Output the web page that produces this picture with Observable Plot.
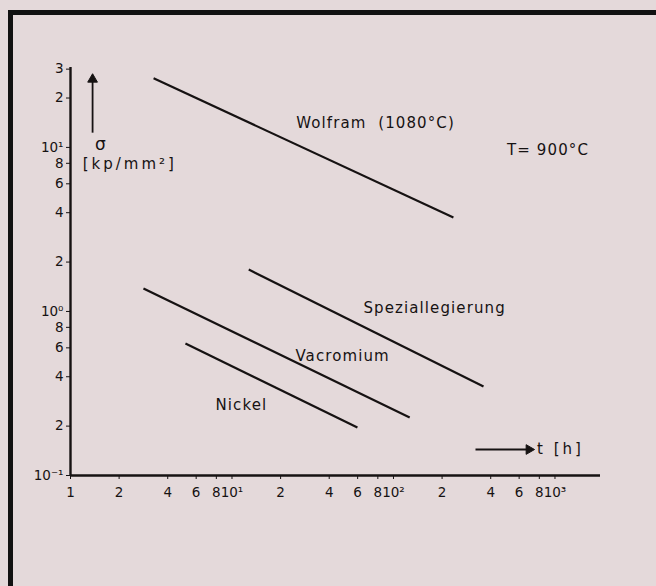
<!DOCTYPE html>
<html>
<head>
<meta charset="utf-8">
<script src="https://cdn.jsdelivr.net/npm/d3@7"></script>
<script src="https://cdn.jsdelivr.net/npm/@observablehq/plot@0.6"></script>
<style>
  html, body { margin: 0; padding: 0; background: #e4d9da; }
  #wrap { position: relative; width: 656px; height: 586px; overflow: hidden; background: #e4d9da; }
  #frame { position: absolute; left: 8px; top: 10px; width: 660px; height: 600px;
           border-left: 5px solid #111; border-top: 5px solid #111; pointer-events: none; }
  #chart { position: absolute; left: 0; top: 0; }
  #chart .ann text { letter-spacing: 1.1px; }
  #chart .wide text { letter-spacing: 3px; }
  #chart .tk text { letter-spacing: 0px; }
</style>
</head>
<body>
<div id="wrap"><div id="chart"></div><div id="frame"></div></div>
<script>
// Series: creep strength lines (t in h, sigma in kp/mm²), start and end points
const seriesNames = ["Wolfram", "Speziallegierung", "Vacromium", "Nickel"];
const seriesT = [[3.27, 235], [12.7, 361], [2.83, 126], [5.15, 59.8]];
const seriesSigma = [[26.4, 3.74], [1.80, 0.349], [1.38, 0.226], [0.638, 0.196]];

// Tick values and labels
const xTicks = [1, 2, 4, 6, 8, 10, 20, 40, 60, 80, 100, 200, 400, 600, 800, 1000];
const xTickLabels = ["1", "2", "4", "6", "8", "10¹", "2", "4", "6", "8", "10²", "2", "4", "6", "8", "10³"];
const yTicks = [0.1, 0.2, 0.4, 0.6, 0.8, 1, 2, 4, 6, 8, 10, 20, 30];
const yTickLabels = ["10⁻¹", "2", "4", "6", "8", "10⁰", "2", "4", "6", "8", "10¹", "2", "3"];

// Annotation texts (anchored in data space)
const labelTexts = ["Wolfram  (1080°C)", "T= 900°C", "Speziallegierung", "Vacromium", "Nickel"];
const labelT = [77.4, 505, 65.2, 24.7, 7.9];
const labelSigma = [14.0, 9.6, 1.04, 0.532, 0.267];
const labelAnchor = ["middle", "start", "start", "start", "start"];

// Axis titles
const axisTitleTexts = ["t [h]", "[kp/mm²]"];
const axisTitleT = [775, 1.19];
const axisTitleSigma = [0.144, 7.95];
const sigmaSymbol = ["σ"];
const sigmaT = [1.53];
const sigmaS = [10.4];

// Axis arrows: shaft start/end and head direction
const arrowT1 = [322, 1.37];
const arrowT2 = [690, 1.37];
const arrowS1 = [0.144, 12.3];
const arrowS2 = [0.144, 26.0];
const arrowRotate = [90, 0];

const xDomain = [1, 1914];
const yDomain = [0.1, 30.7];

const segs = seriesNames.map((n, i) => ({name: n, x1: seriesT[i][0], x2: seriesT[i][1], y1: seriesSigma[i][0], y2: seriesSigma[i][1]}));
const labels = labelTexts.map((t, i) => ({text: t, x: labelT[i], y: labelSigma[i], anchor: labelAnchor[i]}));
const titles = axisTitleTexts.map((t, i) => ({text: t, x: axisTitleT[i], y: axisTitleSigma[i]}));
const sigma = sigmaSymbol.map((t, i) => ({text: t, x: sigmaT[i], y: sigmaS[i]}));
const arrows = [0, 1].map(i => ({x1: arrowT1[i], x2: arrowT2[i], y1: arrowS1[i], y2: arrowS2[i], rotate: arrowRotate[i]}));

const font = "'DejaVu Sans', sans-serif";
const ink = "#161212";

const plot = Plot.plot({
  width: 656,
  height: 586,
  marginLeft: 70,
  marginRight: 56,
  marginTop: 67,
  marginBottom: 111,
  style: {background: "transparent", fontFamily: font, color: ink},
  x: {type: "log", domain: xDomain, axis: null},
  y: {type: "log", domain: yDomain, axis: null},
  marks: [
    // tick marks
    Plot.ruleX(xTicks, {x: d => d, y1: () => yDomain[0], y2: () => yDomain[0], insetBottom: -4, stroke: ink, strokeWidth: 1}),
    Plot.ruleY(yTicks, {y: d => d, x1: () => xDomain[0], x2: () => xDomain[0], insetLeft: -4, stroke: ink, strokeWidth: 1}),
    // tick labels
    Plot.text(xTicks, {x: d => d, y: () => yDomain[0], text: (d, i) => xTickLabels[i], dy: 17, fill: ink, fontSize: 13.5, fontFamily: font, className: "tk"}),
    Plot.text(yTicks, {x: () => xDomain[0], y: d => d, text: (d, i) => yTickLabels[i], dx: -7, textAnchor: "end", fill: ink, fontSize: 13.5, fontFamily: font, className: "tk"}),
    // axis lines
    Plot.ruleY([yDomain[0]], {stroke: ink, strokeWidth: 2.4}),
    Plot.ruleX([xDomain[0]], {stroke: ink, strokeWidth: 2.4}),
    // data lines
    Plot.link(segs, {x1: "x1", y1: "y1", x2: "x2", y2: "y2", stroke: ink, strokeWidth: 2.2}),
    // axis arrows
    Plot.link(arrows, {x1: "x1", y1: "y1", x2: "x2", y2: "y2", stroke: ink, strokeWidth: 1.8}),
    Plot.dot(arrows, {x: "x2", y: "y2", symbol: "triangle", rotate: "rotate", r: 3.6, fill: ink, stroke: ink, strokeWidth: 1}),
    // annotations
    Plot.text(labels.filter(d => d.anchor === "start"), {x: "x", y: "y", text: "text", textAnchor: "start", fill: ink, fontSize: 15, fontFamily: font, className: "ann"}),
    Plot.text(labels.filter(d => d.anchor === "middle"), {x: "x", y: "y", text: "text", textAnchor: "middle", fill: ink, fontSize: 15, fontFamily: font, className: "ann"}),
    // axis titles
    Plot.text(titles, {x: "x", y: "y", text: "text", textAnchor: "start", fill: ink, fontSize: 15, fontFamily: font, className: "wide"}),
    Plot.text(sigma, {x: "x", y: "y", text: "text", textAnchor: "middle", fill: ink, fontSize: 17, fontFamily: font, className: "tk"})
  ]
});
document.getElementById("chart").appendChild(plot);
</script>
</body>
</html>
